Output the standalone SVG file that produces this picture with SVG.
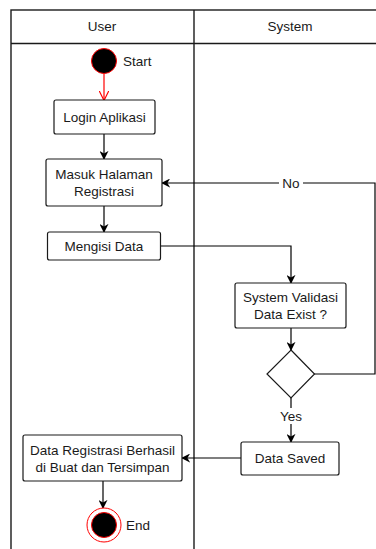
<svg xmlns="http://www.w3.org/2000/svg" width="376" height="549" viewBox="0 0 376 549">
<style>
text{font-family:"Liberation Sans",Arial,sans-serif;font-size:13.5px;fill:#1a1a1a;text-anchor:middle;dominant-baseline:central}
.box{fill:#fff;stroke:#1a1a1a;stroke-width:1.2}
.lane{fill:none;stroke:#1a1a1a;stroke-width:1.4}
.con{fill:none;stroke:#000;stroke-width:1.2}
.lbl{text-anchor:start}
</style>
<defs>
<marker id="arr" viewBox="0 0 10 10" refX="9" refY="5" markerWidth="9" markerHeight="9" markerUnits="userSpaceOnUse" orient="auto">
<path d="M0,0 L10,5 L0,10 L3,5 z" fill="#000"/>
</marker>
<marker id="open" viewBox="0 0 10 10" refX="9.5" refY="5" markerWidth="10" markerHeight="10" markerUnits="userSpaceOnUse" orient="auto">
<path d="M0,0 L10,5 L0,10" fill="none" stroke="#f00" stroke-width="1.2"/>
</marker>
</defs>
<rect width="376" height="549" fill="#fff"/>
<g id="lanes">
<rect class="lane" x="11" y="10" width="380" height="560"/>
<line class="lane" x1="11" y1="43.5" x2="391" y2="43.5"/>
<line class="lane" x1="194" y1="10" x2="194" y2="560"/>
<text x="102" y="26">User</text>
<text x="290" y="26">System</text>
</g>
<g id="connectors">
<line x1="104" y1="74" x2="104" y2="100" stroke="#f00" stroke-width="1.2" marker-end="url(#open)"/>
<line class="con" x1="104" y1="134" x2="104" y2="159" marker-end="url(#arr)"/>
<line class="con" x1="104" y1="206" x2="104" y2="232" marker-end="url(#arr)"/>
<polyline class="con" points="161,246 291,246 291,283" marker-end="url(#arr)"/>
<line class="con" x1="291" y1="328" x2="291" y2="350" marker-end="url(#arr)"/>
<polyline class="con" points="314,374 375,374 375,183 162,183" marker-end="url(#arr)"/>
<rect x="279" y="175" width="24" height="16" fill="#fff"/>
<text x="291" y="183">No</text>
<line class="con" x1="291" y1="398" x2="291" y2="442" marker-end="url(#arr)"/>
<rect x="277" y="408" width="28" height="16" fill="#fff"/>
<text x="291" y="416">Yes</text>
<line class="con" x1="241" y1="458" x2="182" y2="458" marker-end="url(#arr)"/>
<line class="con" x1="103" y1="481" x2="103" y2="508" marker-end="url(#arr)"/>
</g>
<g id="start">
<circle cx="104" cy="61" r="12.5" fill="#000" stroke="#f00" stroke-width="1"/>
<text class="lbl" x="123" y="61">Start</text>
</g>
<g id="login">
<rect class="box" x="54" y="100" width="101" height="34" rx="2"/>
<text x="104.5" y="117">Login Aplikasi</text>
</g>
<g id="masuk">
<rect class="box" x="46" y="159" width="116" height="47" rx="2"/>
<text x="104" y="174">Masuk Halaman</text>
<text x="104" y="191.5">Registrasi</text>
</g>
<g id="mengisi">
<rect class="box" x="47.5" y="232" width="113" height="28" rx="2"/>
<text x="104" y="246">Mengisi Data</text>
</g>
<g id="validasi">
<rect class="box" x="235" y="283" width="111" height="45" rx="2"/>
<text x="290.5" y="297">System Validasi</text>
<text x="290.5" y="314">Data Exist ?</text>
</g>
<g id="decision">
<polygon class="box" points="291,350 314.5,374 291,398 267,374"/>
</g>
<g id="saved">
<rect class="box" x="241" y="442" width="98" height="33" rx="2"/>
<text x="290" y="458.5">Data Saved</text>
</g>
<g id="berhasil">
<rect class="box" x="23" y="435" width="159" height="46" rx="2"/>
<text x="102.5" y="450.5">Data Registrasi Berhasil</text>
<text x="102.5" y="467">di Buat dan Tersimpan</text>
</g>
<g id="end">
<circle cx="104" cy="525" r="17" fill="#fff" stroke="#f00" stroke-width="1"/>
<circle cx="104" cy="525" r="12.5" fill="#000" stroke="#f00" stroke-width="1"/>
<text class="lbl" x="126" y="525">End</text>
</g>
</svg>
